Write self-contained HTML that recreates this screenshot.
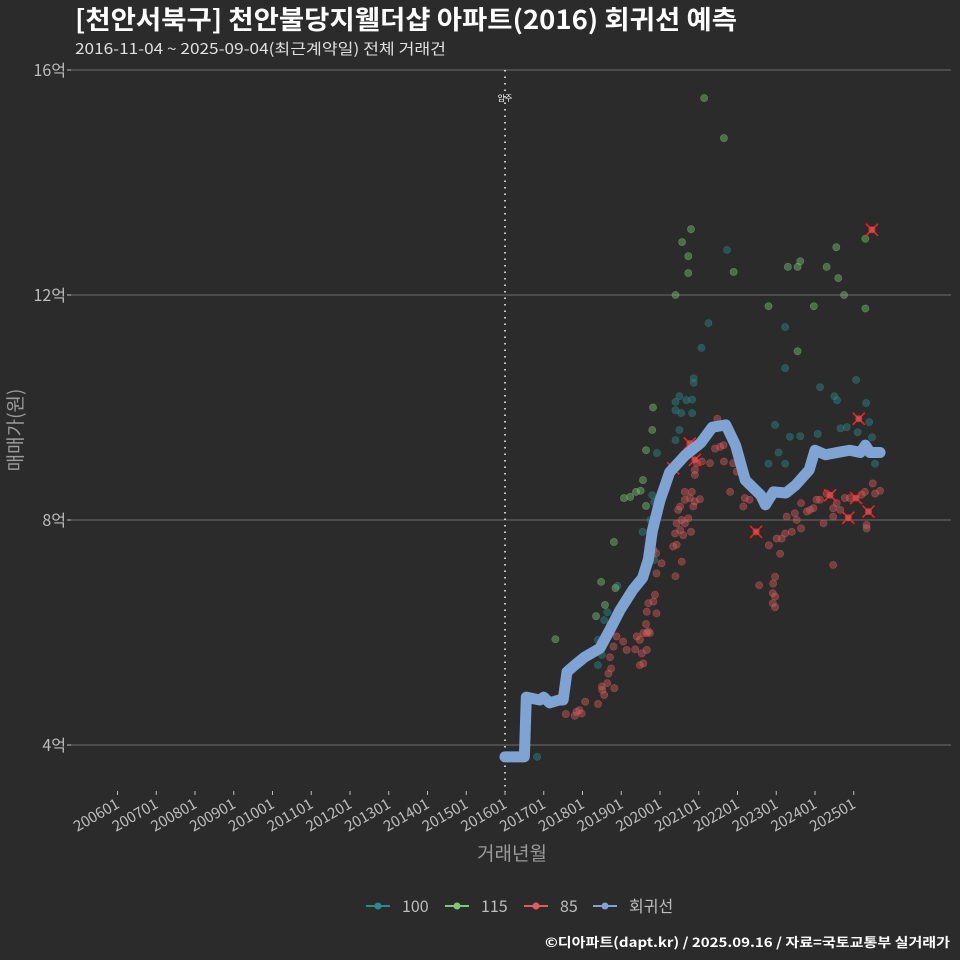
<!DOCTYPE html>
<html><head><meta charset="utf-8">
<style>
html,body{margin:0;padding:0;background:#2b2b2b;}
svg{display:block;font-family:"Noto Sans CJK KR","Liberation Sans",sans-serif;}
</style></head>
<body>
<svg id="chart" width="960" height="960" viewBox="0 0 960 960" xmlns="http://www.w3.org/2000/svg">
<rect x="0" y="0" width="960" height="960" fill="#2b2b2b"/>
<text x="75" y="29" fill="#ffffff" font-size="26" font-weight="bold" textLength="662" lengthAdjust="spacingAndGlyphs">[천안서북구] 천안불당지웰더샵 아파트(2016) 회귀선 예측</text>
<text x="75" y="54" fill="#e0e0e0" font-size="15" textLength="371" lengthAdjust="spacingAndGlyphs">2016-11-04 ~ 2025-09-04(최근계약일) 전체 거래건</text>
<g id="grid"></g>
<g id="yaxis"></g>
<g id="xaxis"></g>
<g id="marks"></g>
<text transform="translate(22,430) rotate(-90)" text-anchor="middle" fill="#9a9a9a" font-size="19">매매가(원)</text>
<text x="512" y="860" text-anchor="middle" fill="#9a9a9a" font-size="19">거래년월</text>
<g id="legend"></g>
<text x="950" y="947" text-anchor="end" fill="#ffffff" font-size="13" font-weight="bold" textLength="405" lengthAdjust="spacingAndGlyphs">©디아파트(dapt.kr) / 2025.09.16 / 자료=국토교통부 실거래가</text>
</svg>
<script>
const yTicks=[4,8,12,16];
const yTickLabels=["4억","8억","12억","16억"];
const xTickYears=[2006,2007,2008,2009,2010,2011,2012,2013,2014,2015,2016,2017,2018,2019,2020,2021,2022,2023,2024,2025];
const xTickLabels=["200601","200701","200801","200901","201001","201101","201201","201301","201401","201501","201601","201701","201801","201901","202001","202101","202201","202301","202401","202501"];
const moveInYear=2016.0;
const regYears=[2016.0,2016.5,2016.55,2016.9,2017.0,2017.15,2017.4,2017.5,2017.6,2017.8,2018.05,2018.45,2018.7,2018.97,2019.3,2019.55,2019.7,2019.8,2020.0,2020.25,2020.65,2021.05,2021.35,2021.7,2021.95,2022.2,2022.6,2022.72,2022.93,2023.25,2023.5,2023.85,2024.0,2024.27,2024.65,2024.9,2025.17,2025.3,2025.42,2025.68];
const regPrices=[3.79,3.79,4.85,4.8,4.85,4.75,4.8,4.8,5.3,5.42,5.56,5.72,6.04,6.4,6.76,6.97,7.3,7.8,8.35,8.85,9.15,9.37,9.65,9.69,9.33,8.71,8.44,8.27,8.5,8.48,8.62,8.89,9.24,9.16,9.21,9.24,9.2,9.33,9.2,9.2];
const g115Years=[2021.14,2021.65,2020.8,2020.57,2020.73,2020.73,2020.4,2021.9,2023.3,2023.55,2023.62,2024.3,2024.55,2024.6,2024.75,2022.8,2023.97,2025.3,2025.3,2023.55,2019.82,2019.8,2019.64,2019.56,2019.5,2019.38,2019.23,2019.07,2019.64,2018.81,2018.48,2018.58,2018.35,2017.3,2018.85];
const g115Prices=[15.5,14.79,13.17,12.94,12.69,12.39,12.0,12.41,12.5,12.5,12.6,12.5,12.85,12.3,12.0,11.8,11.8,13.0,11.76,11.0,10.0,9.6,9.24,8.71,8.52,8.5,8.41,8.39,8.25,7.61,6.9,6.49,6.29,5.88,6.79];
const g100Years=[2021.73,2021.25,2021.07,2020.87,2020.87,2023.23,2023.23,2024.13,2024.5,2024.57,2025.06,2025.32,2020.5,2020.68,2020.83,2020.4,2020.4,2020.55,2020.83,2022.97,2023.35,2023.62,2024.07,2024.66,2024.82,2025.1,2025.4,2023.23,2022.8,2023.06,2019.92,2020.5,2020.4,2020.1,2019.8,2019.85,2019.75,2019.55,2019.85,2019.79,2018.9,2018.64,2018.56,2018.4,2018.32,2018.4,2018.5,2016.83,2025.47,2025.55,2025.35];
const g100Prices=[12.8,11.5,11.06,10.52,10.44,11.43,10.7,10.36,10.2,10.13,10.49,10.08,10.2,10.13,10.14,10.1,9.95,9.9,9.9,9.69,9.48,9.49,9.53,9.63,9.65,9.56,9.74,9.0,9.0,9.2,9.19,9.6,9.42,8.59,8.44,8.32,8.0,7.79,7.29,7.38,6.83,6.36,6.22,5.87,5.67,5.42,5.6,3.79,9.47,9.0,9.19];
const g85Years=[2017.57,2017.8,2017.85,2017.92,2017.98,2018.07,2018.4,2018.5,2018.56,2018.51,2018.64,2018.67,2018.74,2018.71,2018.82,2018.8,2018.88,2019.05,2019.14,2019.36,2019.4,2019.48,2019.57,2019.53,2019.57,2019.48,2019.66,2019.66,2019.7,2019.74,2019.64,2019.66,2019.7,2019.83,2019.87,2019.91,2019.91,2019.9,2019.83,2020.04,2020.4,2020.56,2020.34,2020.43,2020.39,2020.52,2020.6,2020.43,2020.56,2020.64,2020.73,2020.8,2020.47,2020.52,2020.64,2020.77,2020.86,2020.9,2020.82,2020.64,2021.03,2020.9,2020.95,2020.9,2021.08,2021.29,2021.42,2021.55,2021.64,2021.48,2021.65,2021.81,2021.89,2021.98,2022.15,2022.19,2022.31,2022.56,2022.81,2022.97,2022.92,2022.91,2022.97,2022.91,2022.97,2023.01,2023.1,2023.14,2023.23,2023.27,2023.4,2023.48,2023.53,2023.64,2023.64,2023.79,2023.87,2023.96,2024.04,2024.13,2024.22,2024.3,2024.47,2024.47,2024.56,2024.65,2024.47,2024.77,2024.9,2025.2,2025.29,2025.33,2025.33,2025.49,2025.55,2025.68];
const g85Prices=[4.55,4.52,4.59,4.62,4.56,4.77,4.73,5.04,4.89,4.98,5.1,5.27,5.36,5.56,5.01,5.75,5.93,5.84,5.69,5.7,5.93,5.87,5.99,5.63,5.45,5.42,5.69,5.99,6.02,5.99,6.15,6.37,6.52,6.55,6.67,6.34,7.05,7.41,7.47,7.23,7.0,7.26,7.53,7.56,7.76,7.82,7.73,7.94,8.0,7.94,8.03,7.79,8.18,8.24,8.36,8.39,8.24,8.33,8.5,8.5,8.37,8.89,9.01,8.8,9.04,9.01,9.27,9.3,9.33,9.8,9.04,8.5,9.01,8.86,8.24,8.39,8.36,6.84,7.55,6.99,6.87,6.7,6.64,6.52,6.45,7.67,7.4,7.67,7.76,8.06,7.79,8.12,8.0,7.85,8.3,8.15,8.18,8.21,8.36,8.36,7.94,8.47,8.06,8.21,8.3,8.18,7.2,8.39,8.39,8.45,8.5,7.91,7.85,8.65,8.47,8.52];
const crossYears=[2020.34,2020.77,2020.9,2022.48,2024.39,2024.86,2025.06,2025.38,2025.13,2025.47];
const crossPrices=[8.92,9.36,9.07,7.79,8.44,8.04,8.39,8.15,9.8,13.16];

const NS="http://www.w3.org/2000/svg";
const X0=71,X1=951;
function xs(y){return 117.5+(y-2006)*38.75;}
function ys(p){return 745-(p-4)*56.25;}
function mk(tag,attrs,parent){const e=document.createElementNS(NS,tag);for(const k in attrs)e.setAttribute(k,attrs[k]);parent.appendChild(e);return e;}
const grid=document.getElementById('grid'),yax=document.getElementById('yaxis'),xax=document.getElementById('xaxis'),marks=document.getElementById('marks'),leg=document.getElementById('legend');
yTicks.forEach((t,i)=>{
  const l=mk('line',{x1:X0,x2:X1,y1:ys(t),y2:ys(t),stroke:'#6e6e6e','stroke-width':1},grid);
  
  
  const tk=mk('line',{x1:X0-4,x2:X0,y1:ys(t),y2:ys(t),stroke:'#bdbdbd','stroke-width':1},yax);
  
  
  const tx=mk('text',{x:66,y:ys(t)+6,'text-anchor':'end',fill:'#bdbdbd','font-size':16},yax);
  
  
  tx.textContent=yTickLabels[i];
});
xTickYears.forEach((t,i)=>{
  const x=xs(t);
  const tk=mk('line',{x1:x,x2:x,y1:791,y2:795,stroke:'#bdbdbd','stroke-width':1},xax);
  
  
  const tx=mk('text',{transform:`translate(${x+3},${807}) rotate(-30)`,'text-anchor':'end',fill:'#bdbdbd','font-size':15},xax);
  
  
  tx.textContent=xTickLabels[i];
});
const mv=mk('line',{x1:xs(moveInYear),x2:xs(moveInYear),y1:70,y2:792,stroke:'#ffffff','stroke-width':1.5,'stroke-dasharray':'1.5,5'},marks);


const mvt=mk('text',{x:xs(moveInYear),y:101,'text-anchor':'middle',fill:'#ffffff','font-size':8},marks);


mvt.textContent='입주';
function dots(yrs,prs,col,name){
  yrs.forEach((y,i)=>{
    const c=mk('circle',{cx:xs(y),cy:ys(prs[i]),r:3.6,fill:col,'fill-opacity':0.42,stroke:col,'stroke-opacity':0.5,'stroke-width':0.6},marks);
    
    
  });
}
dots(g100Years,g100Prices,'#2a8c88','point-100');
dots(g115Years,g115Prices,'#7fc876','point-115');
dots(g85Years,g85Prices,'#e05d5d','point-85');
crossYears.forEach((y,i)=>{
  const x=xs(y),yy=ys(crossPrices[i]);
  const p=mk('path',{d:`M${x-6},${yy-6}L${x+6},${yy+6}M${x+6},${yy-6}L${x-6},${yy+6}`,stroke:'#ff1a1a','stroke-width':1.6,fill:'none'},marks);
  
  
  const c=mk('circle',{cx:x,cy:yy,r:3.5,fill:'#e05d5d','fill-opacity':0.6},marks);
  
  
});
const reg=mk('polyline',{points:regYears.map((y,i)=>xs(y)+','+ys(regPrices[i])).join(' '),fill:'none',stroke:'#7fa3d2','stroke-width':11,'stroke-linejoin':'round','stroke-linecap':'round'},marks);


const legItems=[["100","#2a8c88",378],["115","#7fc876",457],["85","#e05d5d",536],["회귀선","#7fa3d2",605]];
legItems.forEach(it=>{
  const g=mk('g',{},leg);
  
  
  mk('line',{x1:it[2]-12,x2:it[2]+12,y1:906,y2:906,stroke:it[1],'stroke-width':2},g);
  mk('circle',{cx:it[2],cy:906,r:3.5,fill:it[1]},g);
  const t=mk('text',{x:it[2]+24,y:912,fill:'#bdbdbd','font-size':16},g);
  t.textContent=it[0];
});
</script>
</body></html>
